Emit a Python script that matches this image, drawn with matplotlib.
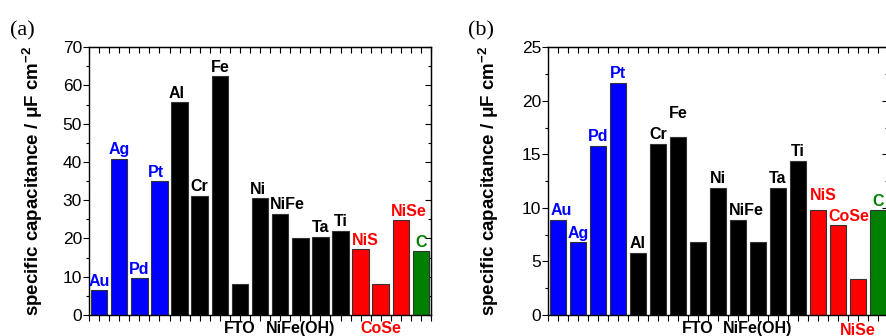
import matplotlib.pyplot as plt
from matplotlib.ticker import MultipleLocator

plt.rcParams["font.family"] = ["Liberation Sans", "DejaVu Sans"]
plt.rcParams["mathtext.fontset"] = "custom"
plt.rcParams["mathtext.rm"] = "Liberation Sans"
plt.rcParams["mathtext.bf"] = "Liberation Sans:bold"

# samples, in plotting order
names = ["Au", "Ag", "Pd", "Pt", "Al", "Cr", "Fe", "FTO", "Ni", "NiFe",
         "NiFe(OH)", "Ta", "Ti", "NiS", "CoSe", "NiSe", "C"]
groups = ["noble"] * 4 + ["metal"] * 9 + ["chalc"] * 3 + ["carbon"]

# specific capacitance, uF cm^-2
cap_a = [6.5, 40.9, 9.6, 34.9, 55.6, 31.2, 62.5, 8.0, 30.6, 26.5,
         20.1, 20.5, 22.0, 17.2, 8.0, 24.8, 16.6]
cap_b = [8.9, 6.8, 15.8, 21.7, 5.8, 16.0, 16.6, 6.8, 11.9, 8.9,
         6.8, 11.9, 14.4, 9.8, 8.4, 3.4, 9.8]

COLORS = {"noble": "#0000ff", "metal": "#000000", "chalc": "#ff0000", "carbon": "#008000"}

# label placement tweaks: (dx in bar units, dy in points), ("below", dy) -> under the axis
LABEL_A = {"FTO": ("below", -4), "NiFe(OH)": ("below", -4), "CoSe": ("below", -4),
           "Pt": (-0.15, 0), "Al": (-0.15, 0), "NiFe": (0.35, 0), "NiS": (0.25, 0),
           "NiSe": (0.4, 0), "Ni": (-0.1, 0)}
LABEL_B = {"FTO": ("below", -4), "NiFe(OH)": ("below", -4), "NiSe": ("below", -6),
           "Au": (0.15, 0), "NiFe": (0.4, 0), "NiS": (0.25, 4), "CoSe": (0.55, 0),
           "Fe": (0, 11)}

YLABEL = r"specific capacitance / μF cm$^{\mathbf{-2}}$"


def draw(ax, values, ymax, ystep, tweaks, ylab_x):
    x = list(range(1, len(names) + 1))
    cols = [COLORS[g] for g in groups]
    ax.bar(x, values, width=0.82, color=cols, edgecolor="#333333", linewidth=0.8)
    ax.set_xlim(0.5, len(names) + 0.5)
    ax.set_ylim(0, ymax)

    for xi, v, n, c in zip(x, values, names, cols):
        t = tweaks.get(n, (0, 0))
        if t[0] == "below":
            ax.annotate(n, (xi, 0), xytext=(0, t[1]), textcoords="offset points",
                        ha="center", va="top", fontsize=11.5, fontweight="bold",
                        color=c, annotation_clip=False)
        else:
            ax.annotate(n, (xi + t[0], v), xytext=(0, 1 + t[1]), textcoords="offset points",
                        ha="center", va="bottom", fontsize=11.5, fontweight="bold",
                        color=c, annotation_clip=False)

    ax.xaxis.set_major_locator(MultipleLocator(1))
    ax.xaxis.set_minor_locator(MultipleLocator(0.5))
    ax.yaxis.set_major_locator(MultipleLocator(ystep))
    ax.yaxis.set_minor_locator(MultipleLocator(ystep / 2))
    ax.tick_params(axis="x", which="both", labelbottom=False, direction="out",
                   length=4, width=0.8)
    ax.tick_params(axis="y", which="major", direction="out", length=4, width=0.8,
                   labelsize=12.5, pad=1)
    ax.tick_params(axis="y", which="minor", direction="out", length=2.5, width=0.8)
    for sp in ax.spines.values():
        sp.set_linewidth(1.0)
    ax.set_ylabel(YLABEL, fontsize=13.5, fontweight="bold")
    ax.yaxis.set_label_coords(ylab_x, 0.5)

    # Origin-style inward ticks on the top and right edges
    top = ax.secondary_xaxis("top")
    top.xaxis.set_major_locator(MultipleLocator(1))
    top.xaxis.set_minor_locator(MultipleLocator(0.5))
    top.tick_params(which="both", direction="in", length=4, width=0.8, labeltop=False)
    right = ax.secondary_yaxis("right")
    right.yaxis.set_major_locator(MultipleLocator(ystep))
    right.yaxis.set_minor_locator(MultipleLocator(ystep / 2))
    right.tick_params(which="major", direction="in", length=4, width=0.8, labelright=False)
    right.tick_params(which="minor", direction="in", length=2.5, width=0.8)


fig = plt.figure(figsize=(8.86, 3.36), dpi=100)
ax1 = fig.add_axes([0.1005, 0.0625, 0.386, 0.797])
ax2 = fig.add_axes([0.6185, 0.0625, 0.3835, 0.797])

draw(ax1, cap_a, 70, 10, LABEL_A, -0.129)
draw(ax2, cap_b, 25, 5, LABEL_B, -0.138)

fig.text(0.011, 0.895, "(a)", family="Liberation Serif", fontsize=16)
fig.text(0.528, 0.895, "(b)", family="Liberation Serif", fontsize=16)

fig.savefig("out.png", dpi=100)
